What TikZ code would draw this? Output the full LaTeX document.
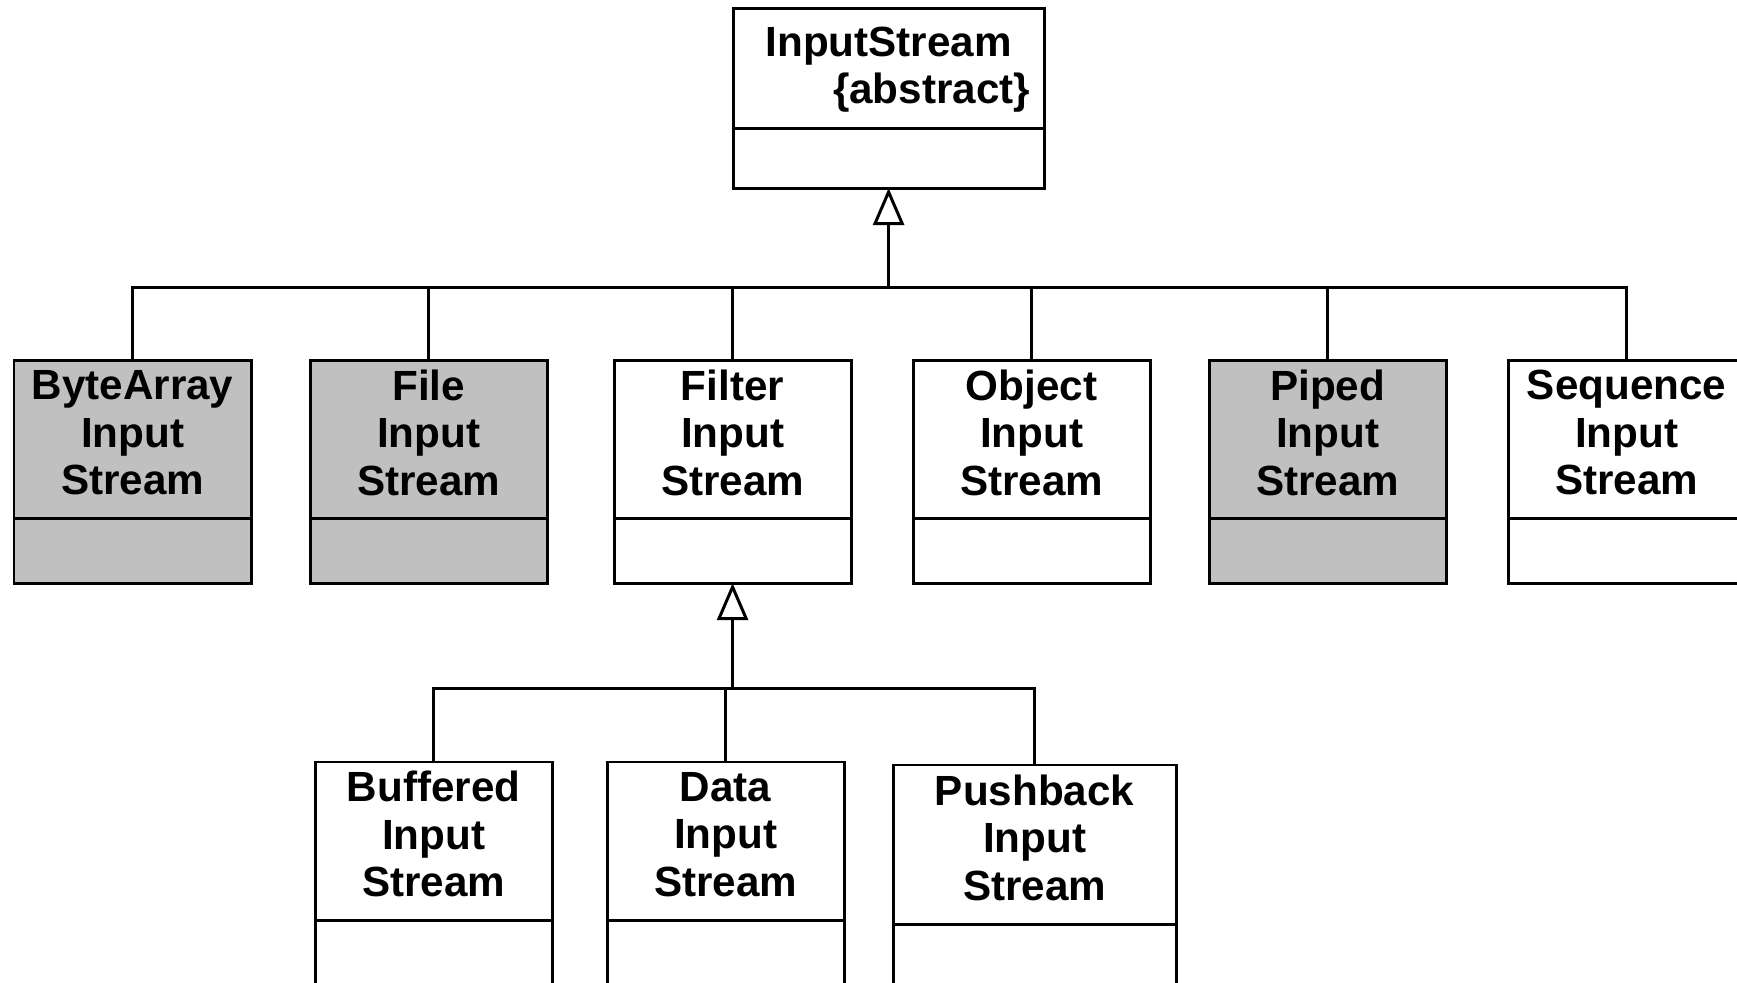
\documentclass[tikz,border=0pt]{standalone}
\usepackage{fontspec}
\setmainfont{Liberation Sans}
\usetikzlibrary{positioning,arrows.meta}
\definecolor{clsgray}{RGB}{192,192,192}

\tikzset{
  head/.style={draw, line width=0.85pt, minimum width=2.37cm, minimum height=1.57cm,
    anchor=north west, inner sep=0pt, outer sep=0pt, align=center, text depth=0.14cm,
    font=\bfseries\fontsize{12}{13.5}\selectfont},
  body/.style={draw, line width=0.85pt, minimum width=2.37cm, minimum height=0.65cm,
    inner sep=0pt, outer sep=0pt},
  grey/.style={fill=clsgray},
  link/.style={line width=0.85pt},
  inherit/.style={link, -{Triangle[open,length=0.37cm,width=0.31cm]}}
}

\begin{document}
\begin{tikzpicture}[x=0.01cm, y=-0.01cm]
        \useasboundingbox (0,0) rectangle (1737,983);
        \clip (0,0) rectangle (1737,983);

        % base class
        \node[head, minimum width=3.11cm, minimum height=1.19cm, text depth=0.06cm] at (733,9) (input)
            {InputStream\\\hspace*{0.86cm}\{abstract\}};
        \node[body, minimum width=3.11cm, minimum height=0.60cm, below=0pt of input] (input-b) {};

        % first level
        \node[head, grey] at (14,361) (bytearray) {ByteArray\\Input\\Stream};
        \node[body, grey, below=0pt of bytearray] (bytearray-b) {};
        \node[head, grey] at (310,361) (file) {File\\Input\\Stream};
        \node[body, grey, below=0pt of file] (file-b) {};
        \node[head] at (614,361) (filter) {Filter\\Input\\Stream};
        \node[body, below=0pt of filter] (filter-b) {};
        \node[head] at (913,361) (object) {Object\\Input\\Stream};
        \node[body, below=0pt of object] (object-b) {};
        \node[head, grey] at (1209,361) (piped) {Piped\\Input\\Stream};
        \node[body, grey, below=0pt of piped] (piped-b) {};
        \node[head] at (1508,361) (sequence) {Sequence\\Input\\Stream};
        \node[body, below=0pt of sequence] (sequence-b) {};

        % second level
        \node[head, minimum height=1.58cm] at (315,762) (buffered) {Buffered\\Input\\Stream};
        \node[body, minimum height=1cm, below=0pt of buffered] (buffered-b) {};
        \node[head, minimum height=1.58cm] at (607,762) (data) {Data\\Input\\Stream};
        \node[body, minimum height=1cm, below=0pt of data] (data-b) {};
        \node[head, minimum width=2.83cm, minimum height=1.59cm] at (893,765) (pushback) {Pushback\\Input\\Stream};
        \node[body, minimum width=2.83cm, minimum height=1cm, below=0pt of pushback] (pushback-b) {};

        % generalisation
        \path (input-b.south) ++(0,99) coordinate (bus1);
        \path (filter-b.south) ++(0,105) coordinate (bus2);

        \foreach \c in {bytearray,file,filter,object,piped,sequence}
            \draw[link] (bus1) -| (\c.north);
        \draw[inherit] (bus1) -- (input-b.south);

        \foreach \c in {buffered,data,pushback}
            \draw[link] (bus2) -| (\c.north);
        \draw[inherit] (bus2) -- (filter-b.south);

    \end{tikzpicture}
\end{document}
